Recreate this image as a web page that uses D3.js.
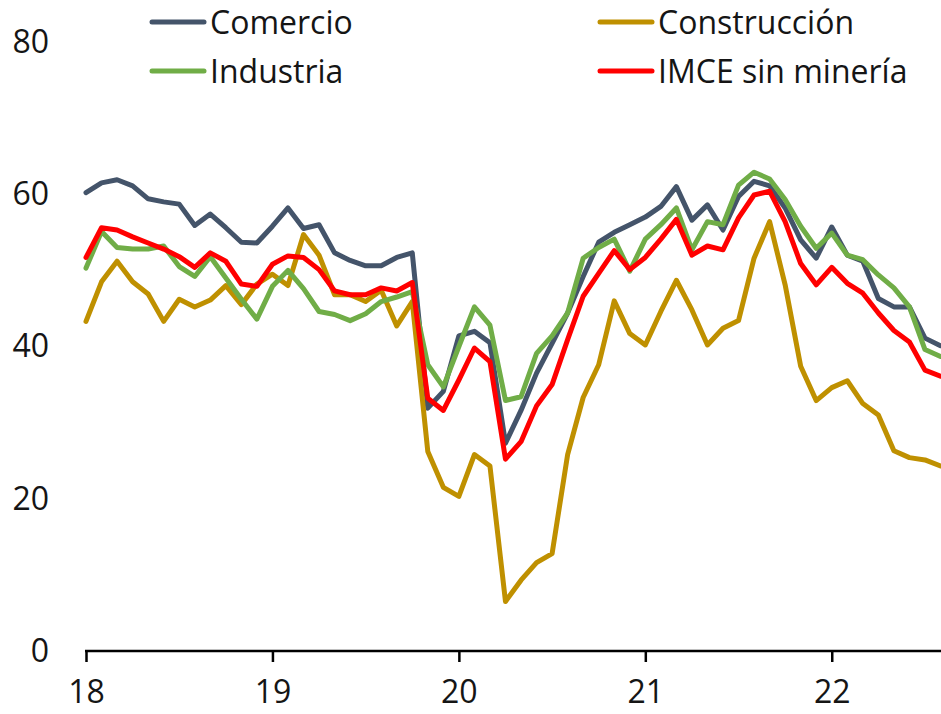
<!DOCTYPE html>
<html>
<head>
    <meta charset="utf-8">
    <style>
        body {
            margin: 0;
            background: #fff;
        }

        svg text {
            font-family: "Open Sans", "Noto Sans", sans-serif;
            fill: #151515;
        }

        .serie {
            fill: none;
            stroke-width: 5px;
            stroke-linejoin: round;
            stroke-linecap: round;
        }
    </style>
</head>
<body>
    <div id="container"></div>
    <script src="https://d3js.org/d3.v7.min.js"></script>
    <script>
        // monthly, Jan 2018 - Aug 2022
        var yearLabels = ["18", "19", "20", "21", "22"];
        var yTicks = [0, 20, 40, 60, 80];
        var seriesNames = ["Comercio", "Construcción", "Industria", "IMCE sin minería"];

        var comercio = [
            60.2, 61.5, 61.9, 61.1, 59.4, 59.0, 58.7, 55.9, 57.4, 55.6, 53.7, 53.6,
            55.8, 58.2, 55.5, 56.0, 52.3, 51.3, 50.6, 50.6, 51.7, 52.3, 31.9, 34.1,
            41.4, 42.0, 40.5, 27.3, 31.6, 36.5, 40.4, 44.4, 49.2, 53.7, 55.0, 56.0,
            57.0, 58.4, 61.0, 56.6, 58.6, 55.3, 59.7, 61.7, 61.1, 58.2, 54.0, 51.6,
            55.7, 52.0, 51.2, 46.3, 45.2, 45.2, 41.1, 40.1
        ];
        var construccion = [
            43.3, 48.5, 51.2, 48.5, 46.9, 43.3, 46.2, 45.2, 46.1, 48.0, 45.5, 48.2,
            49.5, 48.0, 54.7, 52.0, 46.8, 46.8, 45.9, 47.4, 42.7, 45.9, 26.2, 21.5,
            20.3, 25.8, 24.3, 6.5, 9.3, 11.6, 12.8, 25.8, 33.3, 37.6, 46.0, 41.7,
            40.2, 44.6, 48.7, 44.8, 40.2, 42.4, 43.4, 51.6, 56.4, 48.1, 37.4, 32.9,
            34.6, 35.5, 32.5, 31.0, 26.3, 25.4, 25.1, 24.3
        ];
        var industria = [
            50.3, 55.1, 53.0, 52.8, 52.8, 53.2, 50.5, 49.2, 51.8, 49.0, 46.2, 43.6,
            47.9, 50.0, 47.6, 44.6, 44.2, 43.4, 44.3, 45.9, 46.5, 47.2, 37.6, 34.7,
            40.0, 45.2, 42.8, 32.9, 33.4, 39.1, 41.4, 44.4, 51.6, 53.0, 54.1, 49.9,
            54.1, 56.0, 58.2, 52.7, 56.4, 56.0, 61.2, 62.9, 62.0, 59.3, 55.8, 52.9,
            54.9, 52.0, 51.4, 49.4, 47.7, 45.2, 39.6, 38.7
        ];
        var imce = [
            51.7, 55.6, 55.3, 54.4, 53.6, 52.8, 51.8, 50.4, 52.3, 51.2, 48.2, 47.9,
            50.8, 51.9, 51.7, 50.1, 47.3, 46.8, 46.8, 47.7, 47.3, 48.4, 33.2, 31.6,
            35.6, 39.8, 38.0, 25.2, 27.5, 32.2, 35.0, 40.9, 46.6, 49.6, 52.6, 50.1,
            51.7, 54.1, 56.7, 52.0, 53.2, 52.7, 56.9, 59.9, 60.4, 56.4, 50.9, 48.1,
            50.4, 48.3, 47.0, 44.4, 42.1, 40.6, 36.9, 36.1
        ];

        var colors = ["#44546A", "#BF9000", "#70AD47", "#FF0000"];

        function chart() {
            var width = 941, height = 714;

            var series = [comercio, construccion, industria, imce].map(function (vals, k) {
                return { name: seriesNames[k], color: colors[k], values: vals };
            });

            var x = d3.scaleLinear().domain([0, comercio.length - 1]).range([86, 940.5]);
            var y = d3.scaleLinear().domain([0, 80]).range([651, 42]);

            const svg = d3.select("div#container").append("svg")
                .attr("width", width)
                .attr("height", height);

            // x axis: ticks at each January
            var xAxis = d3.axisBottom(x)
                .tickValues(yearLabels.map((d, i) => i * 12))
                .tickFormat((d, i) => yearLabels[i])
                .tickSize(11)
                .tickSizeOuter(0)
                .tickPadding(18);

            var gx = svg.append("g")
                .attr("transform", "translate(0," + y(0) + ")")
                .call(xAxis);
            gx.select(".domain").attr("stroke", "#000").attr("stroke-width", 2.5)
                .attr("d", "M85,0H941");
            gx.selectAll(".tick line").attr("stroke", "#000").attr("stroke-width", 2.5);
            gx.selectAll(".tick text").attr("font-size", 32).attr("fill", "#151515")
                .attr("font-family", null);

            // y axis: labels only
            var gy = svg.append("g")
                .attr("transform", "translate(86,0)")
                .call(d3.axisLeft(y).tickValues(yTicks).tickSize(0).tickPadding(37));
            gy.select(".domain").remove();
            gy.selectAll(".tick text").attr("font-size", 32).attr("fill", "#151515")
                .attr("font-family", null);

            var line = d3.line()
                .x((d, i) => x(i))
                .y(d => y(d));

            svg.append("g")
                .selectAll("path")
                .data(series)
                .join("path")
                .attr("class", "serie")
                .attr("stroke", d => d.color)
                .attr("d", d => line(d.values));

            // legend, two columns
            var legendPos = [[152, 22], [600, 22], [152, 71], [600, 71]];
            var leg = svg.append("g")
                .selectAll("g")
                .data(series)
                .join("g")
                .attr("transform", (d, i) => "translate(" + legendPos[i][0] + "," + legendPos[i][1] + ")");

            leg.append("line")
                .attr("x1", 0).attr("x2", 52)
                .attr("stroke", d => d.color)
                .attr("stroke-width", 5)
                .attr("stroke-linecap", "round");

            leg.append("text")
                .attr("x", 58)
                .attr("dy", "0.36em")
                .attr("font-size", 32)
                .text(d => d.name);
        }

        chart();
    </script>
</body>
</html>
